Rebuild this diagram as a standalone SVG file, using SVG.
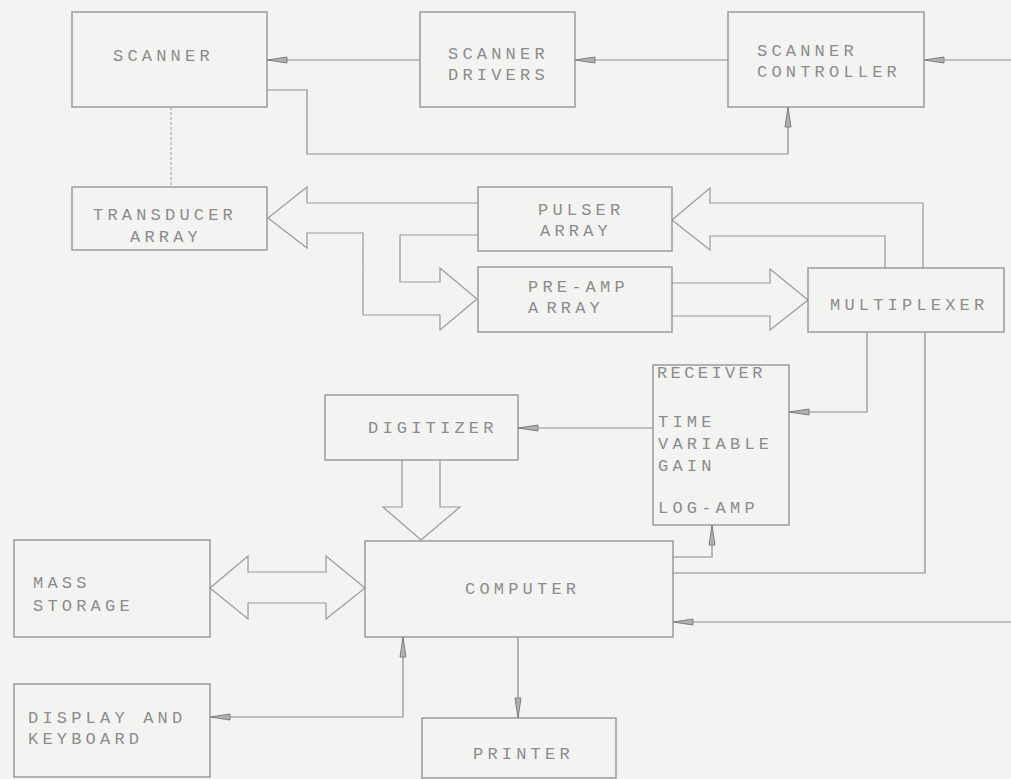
<svg xmlns="http://www.w3.org/2000/svg" width="1011" height="779" viewBox="0 0 1011 779">
<style>
.box{fill:none;stroke:#8e8e8e;stroke-width:1.3}
.ln{fill:none;stroke:#8e8e8e;stroke-width:1.2}
.fat{fill:none;stroke:#9a9a9a;stroke-width:1.2;stroke-linejoin:miter}
.dash{fill:none;stroke:#aaaaaa;stroke-width:1.2;stroke-dasharray:3,2}
.arr{marker-end:url(#ah)}
text{font-family:"Liberation Mono","DejaVu Sans Mono",monospace;font-size:17px;letter-spacing:4.2px;fill:#8c8c8c}
</style>
<defs>
<marker id="ah" markerUnits="userSpaceOnUse" viewBox="0 0 22 8" refX="21" refY="4" markerWidth="22" markerHeight="8" orient="auto-start-reverse">
<path d="M1,1 L21,4 L1,7 Z" fill="#b0b0b0" stroke="#808080" stroke-width="1"/>
</marker>
</defs>
<rect width="1011" height="779" fill="#f3f3f1"/>
<g id="connectors">
<path class="ln arr" d="M1011,60 H924"/>
<path class="ln arr" d="M728,60 H575"/>
<path class="ln arr" d="M420,60 H267"/>
<path class="ln arr" d="M267,90 H307 V154 H788 V107"/>
<path class="dash" d="M171,107 V187"/>
<path class="fat" d="M478,203 H307 V187 L268,218 L307,248 V233 H363 V315 H440 V330 L477,299 L440,268 V282 H400 V235 H478"/>
<path class="fat" d="M923,268 V203 H710 V188 L672,220 L710,250 V236 H885 V268"/>
<path class="fat" d="M672,283 H770 V269 L808,300 L770,330 V316 H672"/>
<path class="ln arr" d="M867,332 V412 H789"/>
<path class="ln arr" d="M653,428 H518"/>
<path class="fat" d="M402,460 V507 H383 L421,540 L460,507 H440 V460"/>
<path class="fat" d="M210,588 L248,556 V572 H326 V556 L365,588 L326,619 V603 H248 V619 Z"/>
<path class="ln arr" d="M673,557 H712 V525"/>
<path class="ln" d="M673,573 H925 V332"/>
<path class="ln arr" d="M1011,622 H673"/>
<path class="ln arr" style="marker-start:url(#ah)" d="M210,717 H403 V637"/>
<path class="ln arr" d="M518,637 V718"/>
</g>
<g id="scanner"><rect class="box" x="72" y="12" width="195" height="95"/><text x="113" y="61">SCANNER</text></g>
<g id="scanner-drivers"><rect class="box" x="420" y="12" width="155" height="95"/><text x="448" y="59">SCANNER</text><text x="448" y="80">DRIVERS</text></g>
<g id="scanner-controller"><rect class="box" x="728" y="12" width="196" height="95"/><text x="757" y="56">SCANNER</text><text x="757" y="77">CONTROLLER</text></g>
<g id="transducer-array"><rect class="box" x="72" y="187" width="195" height="63"/><text x="93" y="220">TRANSDUCER</text><text x="130" y="242">ARRAY</text></g>
<g id="pulser-array"><rect class="box" x="478" y="187" width="194" height="64"/><text x="538" y="215">PULSER</text><text x="540" y="236">ARRAY</text></g>
<g id="pre-amp-array"><rect class="box" x="478" y="267" width="194" height="65"/><text x="528" y="292">PRE-AMP</text><text x="528" y="313">A<tspan dx="4">RRAY</tspan></text></g>
<g id="multiplexer"><rect class="box" x="808" y="268" width="196" height="64"/><text x="830" y="310">MULTIPLEXER</text></g>
<g id="receiver"><rect class="box" x="653" y="365" width="136" height="160"/><text x="657" y="378" style="letter-spacing:3.4px">RECEIVER</text><text x="658" y="427">TIME</text><text x="658" y="449">VARIABLE</text><text x="658" y="471">GAIN</text><text x="658" y="513">LOG-AMP</text></g>
<g id="digitizer"><rect class="box" x="325" y="395" width="193" height="65"/><text x="368" y="433">DIGITIZER</text></g>
<g id="computer"><rect class="box" x="365" y="541" width="308" height="96"/><text x="465" y="594">COMPUTER</text></g>
<g id="mass-storage"><rect class="box" x="14" y="540" width="196" height="97"/><text x="33" y="588">MASS</text><text x="33" y="611">STORAGE</text></g>
<g id="display-keyboard"><rect class="box" x="14" y="684" width="196" height="93"/><text x="28" y="723">DISPLAY AND</text><text x="28" y="744">KEYBOARD</text></g>
<g id="printer"><rect class="box" x="422" y="718" width="194" height="60"/><text x="473" y="759">PRINTER</text></g>
</svg>
